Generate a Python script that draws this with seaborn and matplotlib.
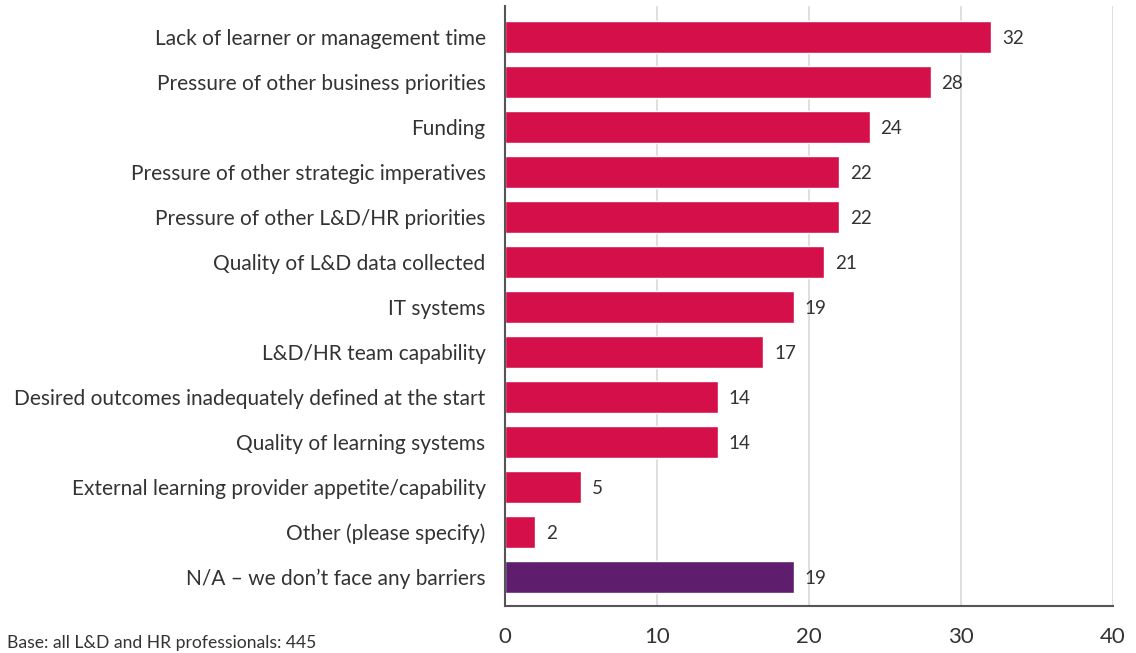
import matplotlib
matplotlib.use("Agg")
import matplotlib.pyplot as plt
import seaborn as sns
import pandas as pd

categories = [
    "Lack of learner or management time",
    "Pressure of other business priorities",
    "Funding",
    "Pressure of other strategic imperatives",
    "Pressure of other L&D/HR priorities",
    "Quality of L&D data collected",
    "IT systems",
    "L&D/HR team capability",
    "Desired outcomes inadequately defined at the start",
    "Quality of learning systems",
    "External learning provider appetite/capability",
    "Other (please specify)",
    "N/A \u2013 we don\u2019t face any barriers",
]
values = [32, 28, 24, 22, 22, 21, 19, 17, 14, 14, 5, 2, 19]
groups = ["barrier"] * 12 + ["none"]
x_ticks = [0, 10, 20, 30, 40]
footnote = "Base: all L&D and HR professionals: 445"

sns.set_theme(style="white")
plt.rcParams["font.family"] = ["Lato", "DejaVu Sans"]

df = pd.DataFrame({"category": categories, "value": values, "group": groups})
palette = {"barrier": "#D50F4A", "none": "#5F1D6E"}

fig = plt.figure(figsize=(11.36, 6.53), dpi=100)
ax = fig.add_axes([505 / 1136, 47 / 653, 608 / 1136, 600 / 653])

sns.barplot(data=df, y="category", x="value", hue="group", palette=palette,
            dodge=False, legend=False, width=0.71, ax=ax, saturation=1)

ax.set_xlim(0, 40)
ax.set_ylim(12.64, -0.69)
ax.set_xticks(x_ticks)
ax.set_xticklabels([str(t) for t in x_ticks], fontsize=16, color="#333333")
ax.tick_params(axis="x", length=0, pad=15)
ax.tick_params(axis="y", length=0, pad=14, labelsize=15, labelcolor="#333333")
ax.set_xlabel("")
ax.set_ylabel("")
ax.grid(axis="x", color="#d9d9d9", linewidth=1.2)
ax.set_axisbelow(True)
for s in ["top", "right"]:
    ax.spines[s].set_visible(False)
for s in ["left", "bottom"]:
    ax.spines[s].set_color("#555555")
    ax.spines[s].set_linewidth(1.5)

for i, v in enumerate(values):
    ax.text(v + 0.7, i + 0.04, str(v), va="center", ha="left", fontsize=13.5, color="#333333")

fig.text(7 / 1136, 1 - 643 / 653, footnote, fontsize=12.6, color="#333333",
         ha="left", va="center")

fig.savefig("out.png", dpi=100)
